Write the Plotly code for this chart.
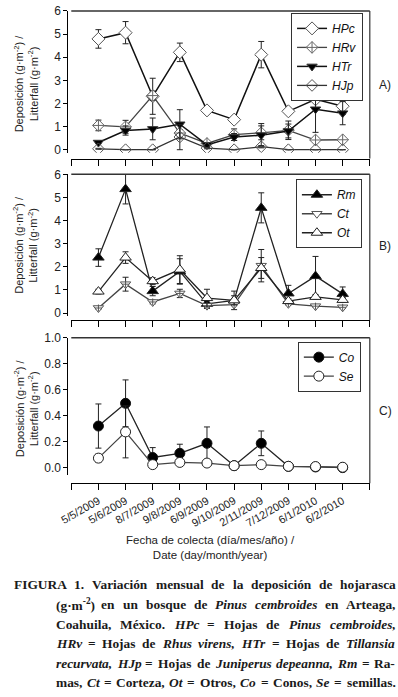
import plotly.graph_objects as go

W, H = 398, 697

# ---------------- data ----------------
dates = ["5/5/2009", "5/6/2009", "8/7/2009", "9/8/2009", "6/9/2009",
         "9/10/2009", "2/11/2009", "7/12/2009", "6/1/2010", "6/2/2010"]

HPc = [4.79, 5.06, 2.31, 4.21, 1.70, 1.30, 4.11, 1.66, 2.18, 1.88]
HPc_err = [0.40, 0.48, 0.78, 0.40, 0.05, 0.05, 0.57, 0.08, 0.40, 0.36]
HRv = [1.05, 0.99, 2.34, 0.72, 0.27, 0.65, 0.73, 0.84, 0.42, 0.43]
HRv_err = [0.23, 0.28, 0.20, 0.15, 0.05, 0.25, 0.30, 0.40, 0.10, 0.10]
HTr = [0.31, 0.83, 0.90, 1.10, 0.21, 0.55, 0.63, 0.81, 1.75, 1.58]
HTr_err = [0.05, 0.20, 0.47, 0.63, 0.05, 0.15, 0.50, 0.30, 1.00, 0.50]
HJp = [0.04, 0.00, 0.00, 0.55, 0.07, 0.00, 0.13, 0.00, 0.00, 0.00]
HJp_err = [0.02, 0.00, 0.00, 0.55, 0.03, 0.00, 0.05, 0.00, 0.00, 0.00]

Rm = [2.40, 5.36, 0.95, 1.80, 0.40, 0.55, 4.55, 0.85, 1.60, 0.83]
Rm_err = [0.38, 0.64, 0.20, 0.55, 0.20, 0.40, 0.65, 0.35, 0.85, 0.30]
Ct = [0.22, 1.25, 0.48, 0.85, 0.32, 0.37, 2.05, 0.40, 0.30, 0.25]
Ct_err = [0.05, 0.30, 0.08, 0.18, 0.06, 0.05, 0.70, 0.05, 0.05, 0.05]
Ot = [0.93, 2.40, 1.38, 1.88, 0.65, 0.55, 1.95, 0.52, 0.70, 0.57]
Ot_err = [0.10, 0.25, 0.15, 0.60, 0.38, 0.20, 0.45, 0.10, 0.10, 0.10]

Co = [0.320, 0.495, 0.078, 0.110, 0.187, 0.015, 0.187, 0.010, 0.005, 0.000]
Co_err = [0.170, 0.180, 0.076, 0.070, 0.126, 0.005, 0.095, 0.005, 0.005, 0.000]
Se = [0.073, 0.275, 0.023, 0.040, 0.035, 0.015, 0.023, 0.010, 0.008, 0.003]
Se_err = [0.030, 0.200, 0.005, 0.005, 0.005, 0.005, 0.005, 0.005, 0.005, 0.003]

yticks_ab = [0, 1, 2, 3, 4, 5, 6]
yticks_c = [0.0, 0.2, 0.4, 0.6, 0.8, 1.0]

caption_lines = [
    "FIGURA 1. Variación mensual de la deposición de hojarasca",
    "(g·m<sup>-2</sup>) en un bosque de <i>Pinus cembroides</i> en Arteaga,",
    "Coahuila, México. <i>HPc</i> = Hojas de <i>Pinus cembroides,</i>",
    "<i>HRv</i> = Hojas de <i>Rhus virens, HTr</i> = Hojas de <i>Tillansia</i>",
    "<i>recurvata, HJp</i> = Hojas de <i>Juniperus depeanna, Rm</i> = Ra-",
    "mas, <i>Ct</i> = Corteza, <i>Ot</i> = Otros, <i>Co</i> = Conos, <i>Se</i> = semillas.",
]

# ---------------- helpers ----------------
def px(x):
    return x / W

def py(y):
    return 1 - y / H

xs = list(range(1, len(dates) + 1))
SANS = "Liberation Sans, Arial, sans-serif"
SERIF = "Liberation Serif, Times New Roman, serif"

fig = go.Figure()


def add(y, err, name, ax, legend, symbol, size, mcolor, lcolor, linecolor,
        lw=1.3, showlegend=True):
    fig.add_trace(go.Scatter(
        x=xs, y=y, name=f"<i>{name}</i>", mode="lines+markers",
        xaxis=f"x{ax}" if ax > 1 else "x", yaxis=f"y{ax}" if ax > 1 else "y",
        legend=legend, showlegend=showlegend,
        line=dict(color=linecolor, width=lw),
        marker=dict(symbol=symbol, size=size, color=mcolor,
                    line=dict(color=lcolor, width=1)),
        error_y=dict(type="data", array=err, visible=True, color="#222222",
                     thickness=1, width=3),
    ))


# Panel A
add(HPc, HPc_err, "HPc", 1, "legend", "diamond", 10, "white", "#555555", "#111111", 1.5)
add(HRv, HRv_err, "HRv", 1, "legend", "diamond-cross", 9, "white", "#666666", "#444444")
add(HTr, HTr_err, "HTr", 1, "legend", "triangle-down", 9, "black", "#333333", "#111111", 1.5)
add(HJp, HJp_err, "HJp", 1, "legend", "diamond-open-dot", 9, "#555555", "#555555", "#333333")

# Panel B
add(Rm, Rm_err, "Rm", 2, "legend2", "triangle-up", 10, "black", "#222222", "#222222")
add(Ct, Ct_err, "Ct", 2, "legend2", "triangle-down", 9, "white", "#555555", "#444444")
fig.add_trace(go.Scatter(x=xs, y=Ct, mode="markers", xaxis="x2", yaxis="y2",
                         showlegend=False, hoverinfo="skip",
                         marker=dict(symbol="cross-thin-open", size=5, color="#555555",
                                     line=dict(color="#555555", width=1))))
add(Ot, Ot_err, "Ot", 2, "legend2", "triangle-up", 10, "white", "#222222", "#222222")

# Panel C
add(Co, Co_err, "Co", 3, "legend3", "circle", 10, "black", "#111111", "#222222")
add(Se, Se_err, "Se", 3, "legend3", "circle", 10, "white", "#222222", "#444444")

# ---------------- axes ----------------
xdom = [px(62), px(369)]
panels = [
    (4, 148, 154, [-3 / 23.5, 6], yticks_ab, None),
    (170, 314, 318, [-3 / 23.5, 6], yticks_ab, None),
    (336, 475, 484, [-7 / 132, 1.0], yticks_c, ".1f"),
]
tickvals_x = list(range(0, len(dates) + 2))
ticktext_x = [""] + dates + [""]

shapes = []
for i, (top, bot, xline, yr, yt, fmt) in enumerate(panels, start=1):
    sfx = "" if i == 1 else str(i)
    fig.layout[f"xaxis{sfx}"] = dict(
        domain=xdom, range=[0, len(dates) + 1], anchor="free",
        position=py(xline), showline=True, linecolor="black", linewidth=1,
        ticks="outside", ticklen=6, tickcolor="black", tickwidth=1,
        tickvals=tickvals_x, ticktext=ticktext_x,
        showticklabels=(i == 3), tickangle=-30,
        tickfont=dict(family=SANS, size=11, color="#222222"),
        showgrid=False, zeroline=False, fixedrange=True,
    )
    fig.layout[f"yaxis{sfx}"] = dict(
        domain=[py(bot), py(top)], range=yr, anchor="free", position=px(58),
        showline=True, linecolor="black", linewidth=1,
        ticks="outside", ticklen=4, tickcolor="black", tickwidth=1,
        tickvals=yt, tickformat=fmt,
        tickfont=dict(family=SANS, size=12, color="#222222"),
        showgrid=False, zeroline=False, fixedrange=True,
    )
    shapes.append(dict(type="line", xref="paper", yref="paper",
                       x0=px(62), x1=px(369), y0=py(top), y1=py(top),
                       line=dict(color="#333333", width=1.5)))
    shapes.append(dict(type="line", xref="paper", yref="paper",
                       x0=px(369), x1=px(369), y0=py(top), y1=py(xline),
                       line=dict(color="#333333", width=1.2)))

# ---------------- annotations ----------------
ann = []
ytitle = "Deposición (g·m<sup>-2</sup>) /<br>Litterfall (g·m<sup>-2</sup>)"
for cy in (78, 242, 408):
    ann.append(dict(text=ytitle, x=px(15), y=py(cy), xref="paper", yref="paper",
                    textangle=-90, showarrow=False, xanchor="center", yanchor="middle",
                    font=dict(family=SANS, size=11, color="#222222")))
for lab, cy in (("A)", 79), ("B)", 243), ("C)", 410)):
    ann.append(dict(text=lab, x=px(385), y=py(cy), xref="paper", yref="paper",
                    showarrow=False, xanchor="center", yanchor="middle",
                    font=dict(family=SANS, size=12, color="#222222")))
ann.append(dict(text="Fecha de colecta (día/mes/año) /<br>Date (day/month/year)",
                x=px(205), y=py(549), xref="paper", yref="paper", showarrow=False,
                xanchor="center", yanchor="middle",
                font=dict(family=SANS, size=11.5, color="#222222")))

# ---- justified caption (word by word, Times-Bold metrics) ----
BOLD = dict(zip(" !()+,-./=·", [250, 333, 333, 333, 570, 250, 333, 250, 278, 570, 250]))
BOLD.update({c: 500 for c in "0123456789"})
BOLD.update(dict(zip("ABCDEFGHIJKLMNOPQRSTUVWXYZ",
                     [722, 667, 722, 722, 667, 611, 778, 778, 389, 500, 778, 667, 944,
                      722, 778, 611, 778, 722, 556, 667, 722, 722, 1000, 722, 722, 667])))
BOLD.update(dict(zip("abcdefghijklmnopqrstuvwxyz",
                     [500, 556, 444, 556, 444, 333, 500, 556, 278, 333, 556, 278, 833,
                      556, 500, 556, 556, 444, 389, 333, 556, 500, 722, 500, 500, 444])))
BOLD.update({"á": 500, "é": 444, "í": 278, "ó": 500, "ñ": 556})
ITAL = dict(BOLD)
ITAL.update(dict(zip("abcdefghijklmnopqrstuvwxyz",
                     [500, 500, 444, 500, 444, 333, 500, 556, 278, 278, 500, 278, 778,
                      556, 500, 500, 500, 389, 389, 278, 556, 444, 667, 500, 444, 389])))
ITAL.update({"C": 667, "O": 722, "R": 667, "T": 611})


def split_words(line):
    words = []
    state = {"it": False, "sup": False}
    cur = {"html": "", "w": 0.0, "it0": False, "sup0": False}

    def close():
        if cur["html"]:
            h = ("<i>" if cur["it0"] else "") + ("<sup>" if cur["sup0"] else "") + cur["html"]
            h += ("</sup>" if state["sup"] else "") + ("</i>" if state["it"] else "")
            words.append((h, cur["w"]))
        cur["html"], cur["w"] = "", 0.0
        cur["it0"], cur["sup0"] = state["it"], state["sup"]

    i = 0
    while i < len(line):
        if line[i] == "<":
            j = line.index(">", i)
            tag = line[i:j + 1]
            cur["html"] += tag
            if tag == "<i>":
                state["it"] = True
            elif tag == "</i>":
                state["it"] = False
            elif tag == "<sup>":
                state["sup"] = True
            elif tag == "</sup>":
                state["sup"] = False
            i = j + 1
            continue
        ch = line[i]
        if ch == " ":
            close()
        else:
            table = ITAL if state["it"] else BOLD
            cur["w"] += table.get(ch, 500) * (0.7 if state["sup"] else 1.0)
            cur["html"] += ch
        i += 1
    close()
    return words


cap_y = [587, 607.5, 627.5, 647, 667, 686.5]
CAP_SIZE = 13.4
for k, (line, cy) in enumerate(zip(caption_lines, cap_y)):
    x0 = 2 if k == 0 else 45
    x1 = 394
    words = split_words(line)
    widths = [w * CAP_SIZE / 1000.0 * 1.02 for _, w in words]
    gap = (x1 - x0 - sum(widths)) / max(1, len(words) - 1)
    gap = max(gap, 3.0)
    x = x0
    for (html, _), wd in zip(words, widths):
        ann.append(dict(text=f"<b>{html}</b>", x=px(x), y=py(cy),
                        xref="paper", yref="paper", showarrow=False,
                        xanchor="left", yanchor="middle", borderpad=0,
                        font=dict(family=SERIF, size=CAP_SIZE, color="#1a1a1a")))
        x += wd + gap

leg_common = dict(bgcolor="white", bordercolor="#333333", borderwidth=1,
                  font=dict(family=SANS, size=12, color="#111111"),
                  xanchor="left", yanchor="top", xref="paper", yref="paper",
                  itemclick=False, itemdoubleclick=False, tracegroupgap=0)

fig.update_layout(
    width=W, height=H, autosize=False,
    margin=dict(l=0, r=0, t=0, b=0),
    paper_bgcolor="white", plot_bgcolor="white",
    showlegend=True,
    legend=dict(x=px(288), y=py(6), **leg_common),
    legend2=dict(x=px(293), y=py(175), **leg_common),
    legend3=dict(x=px(295), y=py(340), **leg_common),
    shapes=shapes, annotations=ann,
)

fig.write_html("out.html", config={"displayModeBar": False},
               post_script="document.body.style.margin='0';"
                           "document.body.style.overflow='hidden';")
